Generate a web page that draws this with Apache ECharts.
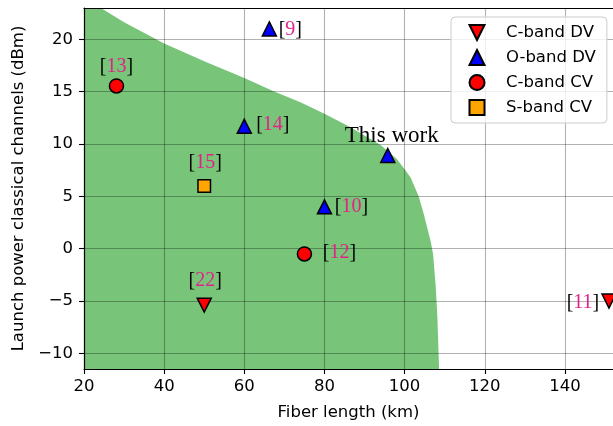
<!DOCTYPE html>
<html><head><meta charset="utf-8">
<script src="https://cdn.jsdelivr.net/npm/echarts@6/dist/echarts.min.js"></script>
<style>html,body{margin:0;padding:0;background:#fff}#c{width:613px;height:426px}</style>
</head><body><div id="c"></div>
<script>
// ---- data ----
const xTicks = [20, 40, 60, 80, 100, 120, 140];
const yTicks = [-10, -5, 0, 5, 10, 15, 20];
const boundaryKm  = [20, 24, 30, 40, 50, 60, 67.3, 74, 80, 86.5, 94, 98, 100, 101.5, 103.5, 104.8, 105.7, 106.5, 107.1, 107.75, 108.2, 108.6];
const boundaryDbm = [23.9, 23.05, 21.65, 19.6, 17.9, 16.3, 15.05, 14.0, 12.9, 11.6, 9.9, 8.6, 7.6, 6.8, 5.0, 3.3, 1.9, 0.7, -0.5, -3.5, -6.7, -11.5];
const cDVkm = [50, 151],              cDVdbm = [-5.4, -5],             cDVref = ['22', '11'];
const oDVkm = [66.25, 60, 95.8, 80],  oDVdbm = [21, 11.7, 8.9, 4],     oDVref = ['9', '14', 'This work', '10'];
const cCVkm = [28.1, 75],             cCVdbm = [15.55, -0.5],          cCVref = ['13', '12'];
const sCVkm = [50],                   sCVdbm = [6],                    sCVref = ['15'];
const seriesNames = ['C-band DV', 'O-band DV', 'C-band CV', 'S-band CV'];

// ---- label placement (style, not data) ----
const labelOffset = {
  '22': [1, -24], '11': [-26, 1.5], '9': [21, 1], '14': [28.5, -1],
  'This work': [4, -20], '10': [27, 0], '13': [0, -19], '12': [35, -1], '15': [1, -23]
};

const serif = 'Liberation Serif';
const sans = 'DejaVu Sans';
function items(km, dbm, refs) {
  return km.map((k, i) => ({
    value: [k, dbm[i]],
    ref: refs[i],
    label: { offset: labelOffset[refs[i]] }
  }));
}
const labelCfg = {
  show: true, position: 'inside', align: 'center', verticalAlign: 'middle',
  formatter: p => p.data.ref === 'This work' ? '{t|This work}' : '{b|[}{n|' + p.data.ref + '}{b|]}',
  rich: {
    b: { color: '#000', fontFamily: serif, fontSize: 20 },
    n: { color: '#e4208a', fontFamily: serif, fontSize: 20 },
    t: { color: '#000', fontFamily: serif, fontSize: 23 }
  }
};
const edge = { borderColor: '#000', borderWidth: 1.5, opacity: 1 };
const downTri = 'path://M0 0 L10 0 L5 10 Z';
const minus = v => String(v).replace('-', '\u2212');

const chart = echarts.init(document.getElementById('c'), null, { renderer: 'canvas' });
chart.setOption({
  animation: false,
  backgroundColor: '#fff',
  grid: { left: 84, right: 0, top: 8, bottom: 55 },
  legend: {
    left: 451, top: 17, orient: 'vertical',
    data: seriesNames,
    itemWidth: 15, itemHeight: 15, itemGap: 7,
    padding: [6.5, 11, 6.5, 17.5],
    backgroundColor: 'rgba(255,255,255,0.8)',
    borderColor: '#cccccc', borderWidth: 1, borderRadius: 4,
    textStyle: { fontFamily: sans, fontSize: 16.5, color: '#000', lineHeight: 18, padding: [0, 0, 0, 16.5] },
    z: 20
  },
  xAxis: [{
    type: 'value', min: 20, max: 152, interval: 20, z: 1,
    name: 'Fiber length (km)', nameLocation: 'middle', nameGap: 35,
    nameTextStyle: { fontFamily: sans, fontSize: 16.5, color: '#000' },
    axisLine: { onZero: false, lineStyle: { color: '#000', width: 1.2 } },
    axisTick: { show: true, length: 5, lineStyle: { color: '#000', width: 1.1 }, customValues: xTicks },
    axisLabel: { fontFamily: sans, fontSize: 16.5, color: '#000', margin: 9, customValues: xTicks, formatter: minus },
    splitLine: { show: true, lineStyle: { color: 'rgba(0,0,0,0.3)', width: 1.1 } }
  }, {
    type: 'value', min: 20, max: 152, position: 'top', z: 1,
    axisLine: { show: true, onZero: false, lineStyle: { color: '#000', width: 1.2 } },
    axisTick: { show: false }, axisLabel: { show: false }, splitLine: { show: false }
  }],
  yAxis: {
    type: 'value', min: -11.5, max: 23, splitNumber: 7, z: 1,
    name: 'Launch power classical channels (dBm)', nameLocation: 'middle', nameGap: 56,
    nameTextStyle: { fontFamily: sans, fontSize: 16.5, color: '#000' },
    axisLine: { show: true, onZero: false, lineStyle: { color: '#000', width: 1.2 } },
    axisTick: { show: true, length: 5, lineStyle: { color: '#000', width: 1.1 }, customValues: yTicks },
    axisLabel: { fontFamily: sans, fontSize: 16.5, color: '#000', margin: 11, customValues: yTicks, formatter: minus },
    splitLine: { show: true, lineStyle: { color: 'rgba(0,0,0,0.3)', width: 1.1 } }
  },
  series: [
    {
      type: 'line', z: 0, silent: true,
      data: boundaryKm.map((k, i) => [k, boundaryDbm[i]]),
      showSymbol: false, symbol: 'none',
      lineStyle: { width: 0, color: '#78c479' },
      areaStyle: { color: '#78c479', opacity: 1, origin: 'start' }
    },
    { name: seriesNames[0], type: 'scatter', z: 5, symbol: downTri, symbolSize: 14,
      itemStyle: Object.assign({ color: '#ff0000' }, edge), label: labelCfg, data: items(cDVkm, cDVdbm, cDVref) },
    { name: seriesNames[1], type: 'scatter', z: 5, symbol: 'triangle', symbolSize: 14,
      itemStyle: Object.assign({ color: '#0000ff' }, edge), label: labelCfg, data: items(oDVkm, oDVdbm, oDVref) },
    { name: seriesNames[2], type: 'scatter', z: 5, symbol: 'circle', symbolSize: 14,
      itemStyle: Object.assign({ color: '#ff0000' }, edge), label: labelCfg, data: items(cCVkm, cCVdbm, cCVref) },
    { name: seriesNames[3], type: 'scatter', z: 5, symbol: 'rect', symbolSize: 12.5,
      itemStyle: Object.assign({ color: '#ffa500' }, edge), label: labelCfg, data: items(sCVkm, sCVdbm, sCVref) }
  ]
});
</script></body></html>
